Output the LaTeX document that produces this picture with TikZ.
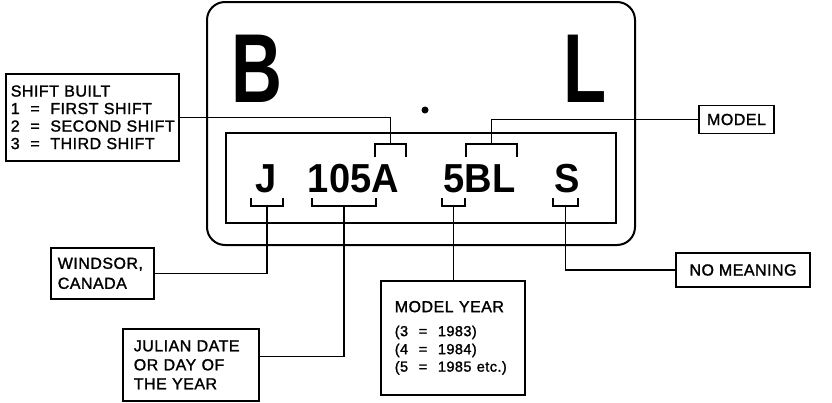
\documentclass[tikz,border=0pt]{standalone}
\usepackage{graphicx}
\usepackage{fontspec}
\setmainfont{Liberation Sans}
\newfontfamily\tagfont[LetterSpace=3,FakeBold=1.5]{Liberation Sans}
\usepackage{tikz}
\tikzset{
  plate/.style={line width=2pt},
  brack/.style={line width=1.5pt},
  lead/.style={line width=1.2pt},
  tagbox/.style={draw,line width=1.6pt,anchor=north west,align=left,inner ysep=0pt,
    execute at begin node={\hyphenpenalty=10000\hfuzz=20pt\relax},
    font=\tagfont\fontsize{16}{17.5}\selectfont},
  bigchar/.style={anchor=base,inner sep=0pt,font=\bfseries\fontsize{98}{98}\selectfont},
  codechar/.style={anchor=base,inner sep=0pt,font=\bfseries\fontsize{40.5}{40.5}\selectfont}
}
\newcommand{\brackdown}[4]{\draw[brack] (#2,#4) -- ++(0,8) -| (#3,#4); \coordinate (#1) at ({(#2+#3)/2},#4+8);}
\newcommand{\brackup}[4]{\draw[brack] (#2,#4+13) -- ++(0,-13) -| (#3,#4+13); \coordinate (#1) at ({(#2+#3)/2},#4);}

\begin{document}
\begin{tikzpicture}[x=1pt,y=-1pt]
\useasboundingbox (0,0) rectangle (832,402);
\draw[plate,rounded corners=18pt] (207,2) rectangle (635,245);
\draw[plate] (226,133) rectangle (616,223);
\node[bigchar] (bigB) at (256.5,102) {\scalebox{0.72}[1]{B}};
\node[bigchar] (bigL) at (585,102) {\scalebox{0.72}[1]{L}};
\fill (425,110) circle (3.5pt);
\node[codechar] (codeJ) at (266,192) {\scalebox{0.94}[1]{J}};
\node[codechar] (codeDate) at (353.5,192) {\scalebox{0.94}[1]{105A}};
\node[codechar] (codeYear) at (479.5,192) {\scalebox{0.94}[1]{5BL}};
\node[codechar] (codeS) at (567,192) {\scalebox{0.94}[1]{S}};
\brackdown{jbr}{251}{283}{198}
\brackdown{datebr}{312}{376}{198}
\brackdown{yearbr}{442}{465}{198}
\brackdown{sbr}{553}{578}{198}
\brackup{abr}{375}{406}{144}
\brackup{blbr}{466}{517}{144}
\node[tagbox,inner xsep=5pt,text width=163pt,minimum height=87pt] (shift) at (5,73)
  {SHIFT~BUILT\\1~~=~~FIRST~SHIFT\\2~~=~~SECOND~SHIFT\\3~~=~~THIRD~SHIFT};
\node[tagbox,anchor=center,minimum width=75pt,minimum height=28pt] (model) at (736.5,119.5) {MODEL};
\node[tagbox,inner xsep=7pt,text width=89pt,minimum height=51pt,
  font=\tagfont\fontsize{16}{20}\selectfont] (windsor) at (50,247) {WINDSOR,\\CANADA};
\node[tagbox,inner xsep=11pt,text width=114pt,minimum height=72pt,
  font=\tagfont\fontsize{16}{19}\selectfont] (julian) at (122,328) {JULIAN~DATE\\OR~DAY~OF\\THE~YEAR};
\node[tagbox,inner xsep=14pt,text width=116pt,minimum height=114pt] (myear) at (380,280)
  {MODEL~YEAR\\[6pt]\fontsize{14.5}{18}\selectfont(3~~=~~1983)\\(4~~=~~1984)\\(5~~=~~1985~etc.)};
\node[tagbox,anchor=center,minimum width=134pt,minimum height=34pt] (nomean) at (743,270) {NO~MEANING};
\draw[lead] (abr) |- (shift.east);
\draw[lead] (blbr) |- (model.west);
\draw[lead] (jbr) |- (windsor.east);
\draw[lead] (datebr) |- (julian.7.5);
\draw[lead] (yearbr) -- (yearbr |- myear.north);
\draw[lead] (sbr) |- (nomean.west);
\end{tikzpicture}
\end{document}
